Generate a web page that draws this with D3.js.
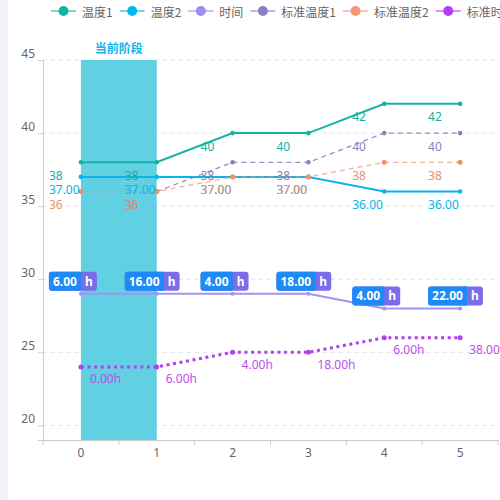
<!DOCTYPE html>
<html><head><meta charset="utf-8">
<script src="https://cdn.jsdelivr.net/npm/d3@7"></script>
<style>
html,body{margin:0;padding:0;background:#fff;}
svg{display:block;font-family:"Noto Sans CJK SC","Noto Sans",sans-serif;}
</style></head>
<body><svg id="c" width="500" height="500"></svg>
<script>
const categories = ["0","1","2","3","4","5"];
const yTicks = [20,25,30,35,40,45];
const yDomain = [19,45];
const temp1 = [38,38,40,40,42,42];
const temp1Labels = ["38","38","40","40","42","42"];
const temp2 = [37,37,37,37,36,36];
const temp2Labels = ["37.00","37.00","37.00","37.00","36.00","36.00"];
const time = [29,29,29,29,28,28];
const timeLabels = ["6.00","16.00","4.00","18.00","4.00","22.00"];
const timeUnit = "h";
const stdTemp1 = [null,36,38,38,40,40];
const stdTemp1Labels = [null,"36","38","38","40","40"];
const stdTemp2 = [36,36,37,37,38,38];
const stdTemp2Labels = ["36","36","37.00","37.00","38","38"];
const stdTime = [24,24,25,25,26,26];
const stdTimeLabels = ["0.00h","6.00h","4.00h","18.00h","6.00h","38.00h"];
const stageRange = ["0","1"];
const stageName = "当前阶段";
const legendNames = ["温度1","温度2","时间","标准温度1","标准温度2","标准时长"];
const legendColors = ["#12b5a5","#00b8ee","#9b8ef0","#8d7fbf","#f2997a","#b23ff0"];

const svg = d3.select("#c");
svg.append("rect").attr("x",0).attr("y",0).attr("width",8).attr("height",500).attr("fill","#f2f3f8");

const x = d3.scaleBand().domain(categories).range([43,498]);
const y = d3.scaleLinear().domain(yDomain).range([440,60]);
const cx = i => x(categories[i]) + x.bandwidth()/2;

// grid
svg.append("g").selectAll("line").data(yTicks).join("line")
  .attr("x1",43).attr("x2",498).attr("y1",d=>y(d)).attr("y2",d=>y(d))
  .attr("stroke","#e3e3e3").attr("stroke-dasharray","4,4");

// stage band
const sx0 = cx(categories.indexOf(stageRange[0])), sx1 = cx(categories.indexOf(stageRange[1]));
svg.append("rect").attr("x",sx0).attr("y",y(yDomain[1])).attr("width",sx1-sx0)
  .attr("height",y(yDomain[0])-y(yDomain[1])).attr("fill","#62d0e3");
svg.append("text").attr("x",(sx0+sx1)/2).attr("y",47).attr("text-anchor","middle")
  .attr("dominant-baseline","central").attr("font-size",12).attr("font-weight","bold")
  .attr("fill","#14b4e6").text(stageName);

// axes
const yAxis = d3.axisLeft(y).tickValues(yTicks).tickSize(5).tickPadding(3);
const gy = svg.append("g").attr("transform","translate(43,0)").call(yAxis);
gy.select(".domain").attr("stroke","#ccc");
gy.selectAll(".tick line").attr("stroke","#ccc");
gy.selectAll(".tick text").attr("fill","#666").attr("font-size",12).attr("dy","-0.2em")
  .attr("font-family","\"Noto Sans\",sans-serif");

const xAxis = d3.axisBottom(x).tickSizeOuter(0).tickSize(0).tickPadding(8);
const gx = svg.append("g").attr("transform","translate(0,440)").call(xAxis);
gx.select(".domain").attr("stroke","#ccc");
gx.selectAll(".tick text").attr("fill","#666").attr("font-size",12)
  .attr("font-family","\"Noto Sans\",sans-serif");
gx.append("g").selectAll("line").data(d3.range(categories.length+1)).join("line")
  .attr("x1",i=>43+i*x.step()).attr("x2",i=>43+i*x.step()).attr("y1",0).attr("y2",5).attr("stroke","#ccc");

const idx = d3.range(categories.length);
function drawLine(vals, color, width, dash, opacity, r){
  const line = d3.line().defined(i=>vals[i]!=null).x(i=>cx(i)).y(i=>y(vals[i]));
  svg.append("path").attr("d",line(idx)).attr("fill","none").attr("stroke",color)
    .attr("stroke-width",width).attr("stroke-dasharray",dash||null).attr("stroke-opacity",opacity);
  svg.append("g").selectAll("circle").data(idx.filter(i=>vals[i]!=null)).join("circle")
    .attr("cx",i=>cx(i)).attr("cy",i=>y(vals[i])).attr("r",r).attr("fill",color);
}
drawLine(temp1,"#13b3a3",2,null,1,2.3);
drawLine(temp2,"#08b5ea",2,null,1,2.3);
drawLine(time,"#a194f0",2,null,1,2);
drawLine(stdTemp1,"#8d7fbf",1.3,"5,4",0.9,2.3);
drawLine(stdTemp2,"#f0906c",1.3,"5,4",0.7,2.5);
drawLine(stdTime,"#b23ff0",3,"3,3.6",1,2.5);

function drawLabels(vals, labels, color, dx, dy){
  svg.append("g").selectAll("text").data(idx.filter(i=>vals[i]!=null)).join("text")
    .attr("x",i=>cx(i)+dx).attr("y",i=>y(vals[i])+dy).attr("dominant-baseline","central")
    .attr("font-size",12).attr("fill",color).attr("font-family","\"Noto Sans\",sans-serif")
    .text(i=>labels[i]);
}
drawLabels(temp1,temp1Labels,"#14b1a1",-32,13);
drawLabels(temp2,temp2Labels,"#0ab3e8",-32,13);
drawLabels(stdTemp1,stdTemp1Labels,"#8d7fbf",-32,13);
drawLabels(stdTemp2,stdTemp2Labels,"#ec9070",-32,13);
drawLabels(stdTime,stdTimeLabels,"#bc4cec",9,12);

// time rich labels
const tg = svg.append("g");
idx.forEach(i=>{
  const px = cx(i)-32, py = y(time[i])-22;
  const g = tg.append("g");
  const t = g.append("text").attr("x",px+4).attr("y",py+9.5).attr("dominant-baseline","central")
    .attr("font-size",12).attr("font-weight","bold").attr("fill","#fff")
    .attr("font-family","\"Noto Sans\",sans-serif").text(timeLabels[i]);
  const tw = t.node().getComputedTextLength();
  const bw = tw+8, hw = 16;
  g.insert("rect","text").attr("x",px).attr("y",py).attr("width",bw+hw).attr("height",19).attr("rx",3).attr("fill","#7b6ce8");
  g.insert("rect","text").attr("x",px).attr("y",py).attr("width",bw).attr("height",19).attr("rx",3).attr("fill","#1e8af6");
  g.insert("rect","text").attr("x",px+bw-4).attr("y",py).attr("width",4).attr("height",19).attr("fill","#1e8af6");
  g.append("text").attr("x",px+bw+hw/2).attr("y",py+9.5).attr("dominant-baseline","central")
    .attr("text-anchor","middle").attr("font-size",12).attr("font-weight","bold").attr("fill","#fff")
    .attr("font-family","\"Noto Sans\",sans-serif").text(timeUnit);
});

// legend
let lx = 51;
const lg = svg.append("g");
legendNames.forEach((n,k)=>{
  const c = legendColors[k];
  lg.append("line").attr("x1",lx).attr("x2",lx+25).attr("y1",11).attr("y2",11)
    .attr("stroke",c).attr("stroke-width",2).attr("stroke-opacity",0.55);
  lg.append("circle").attr("cx",lx+12.5).attr("cy",11).attr("r",5).attr("fill",c);
  const t = lg.append("text").attr("x",lx+31).attr("y",11).attr("dominant-baseline","central")
    .attr("font-size",12).attr("fill","#666").text(n);
  lx += 31 + t.node().getComputedTextLength() + 7;
});
</script></body></html>
